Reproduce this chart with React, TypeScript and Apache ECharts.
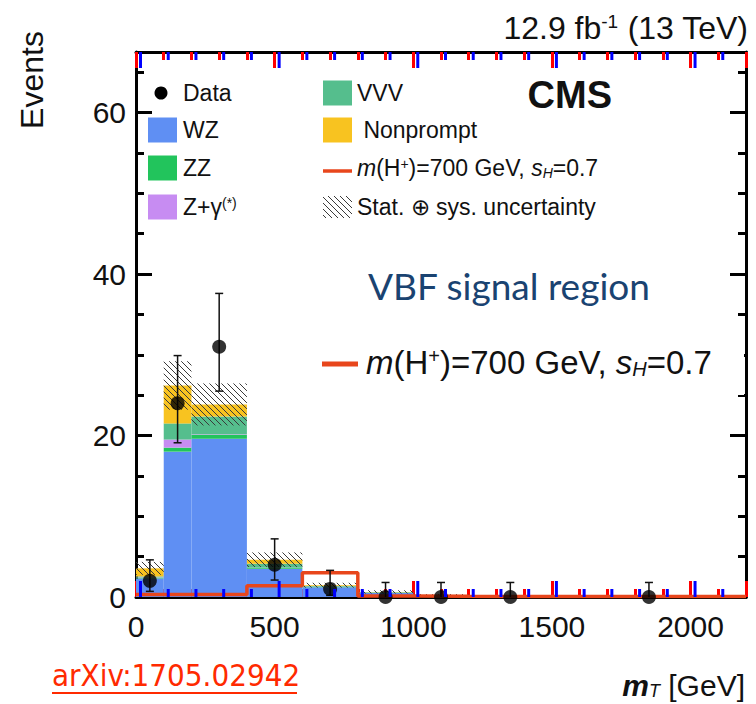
import React, { useEffect, useRef } from "react";
import * as echarts from "echarts";

// ---- data ----
const binEdges = [0, 100, 200, 400, 600, 800, 1000, 1200, 1500, 2200];
const wz = [2.3, 18.0, 19.6, 3.5, 1.2, 0.5, 0.2, 0.1, 0.05];
const zz = [0.1, 0.5, 0.5, 0.1, 0.05, 0.03, 0.02, 0.01, 0.01];
const zgamma = [0.05, 1.0, 0.05, 0.02, 0.01, 0, 0, 0, 0];
const vvv = [0.1, 2.0, 2.2, 0.5, 0.1, 0.05, 0.02, 0.01, 0.01];
const nonprompt = [1.0, 4.7, 1.5, 0.5, 0.1, 0.05, 0.02, 0.01, 0.01];
const bkgUnc = [0.8, 3.0, 2.6, 0.9, 0.3, 0.2, 0.1, 0.05, 0.03];
const signal = [0.3, 0.3, 0.3, 1.4, 3.0, 0.12, 0.08, 0.06, 0.05];
const dataX = [50, 150, 300, 500, 700, 900, 1100, 1350, 1850];
const dataY = [2, 24, 31, 4, 1, 0, 0, 0, 0];
const dataErrUp = [2.6, 5.9, 6.6, 3.2, 2.3, 1.8, 1.8, 1.8, 1.8];
const dataErrDown = [1.3, 4.9, 5.5, 1.9, 0.8, 0, 0, 0, 0];
const xTickLabels = [0, 500, 1000, 1500, 2000];
const xMinorTicks = [100, 200, 300, 400, 600, 700, 800, 900, 1100, 1200, 1300, 1400, 1600, 1700, 1800, 1900, 2100];
const yTickLabels = [0, 20, 40, 60];

const FONT = "'Liberation Sans', Arial, Helvetica, sans-serif";
const C_WZ = "#5f8ff3";
const C_ZZ = "#22c45c";
const C_ZG = "#c78cf2";
const C_VVV = "#55be8d";
const C_NP = "#f8c320";
const C_SIG = "#e8461c";
const stackColors = [C_WZ, C_ZZ, C_ZG, C_VVV, C_NP];
const X_MAX = 2200;
const Y_MAX = 67.5;

function hatchSegments(x0: number, y0: number, x1: number, y1: number, sp: number) {
  const segs: number[][] = [];
  const cStart = Math.ceil((y0 - x1) / sp) * sp;
  for (let c = cStart; c <= y1 - x0; c += sp) {
    const xa = Math.max(x0, y0 - c);
    const xb = Math.min(x1, y1 - c);
    if (xb > xa) segs.push([xa, xa + c, xb, xb + c]);
  }
  return segs;
}

function hatchLines(x0: number, y0: number, x1: number, y1: number, sp: number, z = 0) {
  return hatchSegments(x0, y0, x1, y1, sp).map((s) => ({
    type: "line",
    z,
    shape: { x1: s[0], y1: s[1], x2: s[2], y2: s[3] },
    style: { stroke: "#3a3a3a", lineWidth: 1 },
  }));
}

function txt(x: number, y: number, text: string, size: number, extra: any = {}, rich: any = undefined) {
  return {
    type: "text",
    x,
    y,
    z: 20,
    style: {
      text,
      fontSize: size,
      fontFamily: FONT,
      fill: "#111",
      align: "left",
      verticalAlign: "middle",
      ...(rich ? { rich } : {}),
      ...extra,
    },
  };
}

function richSet(size: number, color = "#111") {
  const sub = Math.round(size * 0.6);
  return {
    i: { fontSize: size, fontFamily: FONT, fontStyle: "italic", fill: color },
    bi: { fontSize: size, fontFamily: FONT, fontStyle: "italic", fontWeight: "bold", fill: color },
    sup: { fontSize: sub, fontFamily: FONT, fill: color, verticalAlign: "top" },
    sub: { fontSize: sub, fontFamily: FONT, fill: color, fontStyle: "italic", verticalAlign: "bottom" },
  };
}

export default function App() {
  const ref = useRef<HTMLDivElement>(null);

  useEffect(() => {
    document.body.style.margin = "0";
    const chart = echarts.init(ref.current!, null, { renderer: "svg" });

    const stackData = binEdges.slice(0, -1).map((x0, i) => [
      x0, binEdges[i + 1], wz[i], zz[i], zgamma[i], vvv[i], nonprompt[i],
    ]);
    const uncData = binEdges.slice(0, -1).map((x0, i) => {
      const tot = wz[i] + zz[i] + zgamma[i] + vvv[i] + nonprompt[i];
      return [x0, binEdges[i + 1], Math.max(0, tot - bkgUnc[i]), tot + bkgUnc[i]];
    });
    const sigData = binEdges.map((x, i) => [x, signal[Math.min(i, signal.length - 1)]]);
    const pts = dataX.map((x, i) => [x, dataY[i]]);
    const errData = dataX.map((x, i) => [x, dataY[i] - dataErrDown[i], dataY[i] + dataErrUp[i]]);

    const mkAxis = (
      pos: string, min: number, max: number, interval: number, split: number,
      labels: boolean, allowed: number[], margin: number, tickColor: string
    ) => ({
      type: "value",
      min,
      max,
      interval,
      position: pos,
      axisLine: { show: true, onZero: false, lineStyle: { color: "#000", width: 3 } },
      axisTick: { show: true, inside: true, length: 16, lineStyle: { color: tickColor, width: 3 } },
      minorTick: { show: true, splitNumber: split, length: 8, lineStyle: { color: tickColor, width: 3 } },
      axisLabel: labels
        ? {
            show: true,
            margin,
            fontSize: 30,
            fontFamily: FONT,
            color: "#111",
            formatter: (v: number) => (allowed.indexOf(v) >= 0 ? String(v) : ""),
          }
        : { show: false },
      splitLine: { show: false },
      minorSplitLine: { show: false },
    });

    const legendGraphics: any[] = [];
    const colA = 148;
    const colB = 323;
    const rows = [93, 130, 168, 207];
    const bw = 29;
    const bh = 25;
    const LS = 23;
    legendGraphics.push({ type: "circle", z: 20, shape: { cx: 161, cy: rows[0], r: 6.5 }, style: { fill: "#000" } });
    legendGraphics.push(txt(183, rows[0], "Data", LS));
    const colAItems: [string, string, any][] = [
      [C_WZ, "WZ", undefined],
      [C_ZZ, "ZZ", undefined],
      [C_ZG, "Z+γ{sup|(*)}", richSet(LS)],
    ];
    colAItems.forEach(([c, t, r], k) => {
      const y = rows[k + 1];
      legendGraphics.push({ type: "rect", z: 20, shape: { x: colA, y: y - bh / 2, width: bw, height: bh }, style: { fill: c } });
      legendGraphics.push(txt(183, y, t, LS, {}, r));
    });
    legendGraphics.push({ type: "rect", z: 20, shape: { x: colB, y: rows[0] - bh / 2, width: bw, height: bh }, style: { fill: C_VVV } });
    legendGraphics.push(txt(357, rows[0], "VVV", LS));
    legendGraphics.push({ type: "rect", z: 20, shape: { x: colB, y: rows[1] - bh / 2, width: bw, height: bh }, style: { fill: C_NP } });
    legendGraphics.push(txt(357, rows[1], " Nonprompt", LS));
    legendGraphics.push({ type: "line", z: 20, shape: { x1: colB, y1: rows[2] + 3, x2: colB + bw, y2: rows[2] + 3 }, style: { stroke: C_SIG, lineWidth: 3.5 } });
    legendGraphics.push(txt(357, rows[2], "{i|m}(H{sup|+})=700 GeV, {i|s}{sub|H}=0.7", LS, {}, richSet(LS)));
    legendGraphics.push(...hatchLines(colB, rows[3] - 11, colB + bw, rows[3] + 11, 6, 20));
    legendGraphics.push(txt(357, rows[3], "Stat. ⊕ sys. uncertainty", LS));

    const SS = 33;
    const box: any[] = [
      { type: "rect", z: 15, shape: { x: 303, y: 338, width: 441, height: 57 }, style: { fill: "#fff" } },
      { type: "line", z: 20, shape: { x1: 322, y1: 364, x2: 358, y2: 364 }, style: { stroke: C_SIG, lineWidth: 5 } },
      txt(366, 362, "{i|m}(H{sup|+})=700 GeV, {i|s}{sub|H}=0.7", SS, {}, richSet(SS)),
    ];

    const baseGraphics: any[] = [
      txt(748, 28, "12.9 fb{sup|-1} (13 TeV)", 32, { align: "right" }, richSet(32)),
      { ...txt(32, 80, "Events", 32, { align: "center" }), rotation: Math.PI / 2 },
      txt(745, 685, "{bi|m}{sub|T} [GeV]", 30, { align: "right" }, richSet(30)),
      txt(52, 675, "arXiv:1705.02942", 31, {
        fill: "#ff2a00",
        fontFamily: "'Liberation Sans Narrow', 'DejaVu Sans Condensed', 'Roboto', sans-serif",
      }),
      { type: "line", z: 20, shape: { x1: 52, y1: 693, x2: 297, y2: 693 }, style: { stroke: "#ff2a00", lineWidth: 2 } },
      txt(368, 285, "VBF signal region", 37, { fill: "#1a4371", fontFamily: "Lato, 'Open Sans', sans-serif" }),
      txt(612, 95, "CMS", 38, { align: "right", fontWeight: "bold" }),
      ...legendGraphics,
      ...box,
    ];

    const option: any = {
      animation: false,
      grid: { left: 136, top: 52, width: 610, height: 545, show: false },
      xAxis: [
        mkAxis("bottom", 0, X_MAX, 500, 5, true, xTickLabels, 14, "#ff0000"),
        mkAxis("top", 0, X_MAX, 500, 5, false, xTickLabels, 14, "#ff0000"),
      ],
      yAxis: [
        mkAxis("left", 0, Y_MAX, 20, 4, true, yTickLabels, 10, "#000"),
        mkAxis("right", 0, Y_MAX, 20, 4, false, yTickLabels, 10, "#000"),
      ],
      series: [
        {
          type: "custom",
          name: "stack",
          z: 2,
          encode: { x: [0, 1], y: [2] },
          data: stackData,
          renderItem: (params: any, api: any) => {
            const x0 = api.value(0);
            const x1 = api.value(1);
            let base = 0;
            const children: any[] = [];
            for (let k = 0; k < 5; k++) {
              const v = api.value(2 + k);
              if (!(v > 0)) continue;
              const p0 = api.coord([x0, base + v]);
              const p1 = api.coord([x1, base]);
              children.push({
                type: "rect",
                shape: { x: p0[0], y: p0[1], width: p1[0] - p0[0], height: p1[1] - p0[1] },
                style: { fill: stackColors[k] },
              });
              base += v;
            }
            return { type: "group", children };
          },
        },
        {
          type: "custom",
          name: "unc",
          z: 3,
          encode: { x: [0, 1], y: [2, 3] },
          data: uncData,
          renderItem: (params: any, api: any) => {
            const a = api.coord([api.value(0), api.value(3)]);
            const b = api.coord([api.value(1), api.value(2)]);
            return { type: "group", children: hatchLines(a[0], a[1], b[0], b[1], 6) };
          },
        },
        {
          type: "line",
          name: "signal",
          z: 4,
          step: "end",
          data: sigData,
          showSymbol: false,
          symbol: "none",
          lineStyle: { color: C_SIG, width: 3.5 },
        },
        {
          type: "custom",
          name: "errors",
          z: 5,
          encode: { x: 0, y: [1, 2] },
          data: errData,
          renderItem: (params: any, api: any) => {
            const x = api.value(0);
            const lo = api.value(1);
            const hi = api.value(2);
            const a = api.coord([x, hi]);
            const b = api.coord([x, lo]);
            const children: any[] = [
              { type: "line", shape: { x1: a[0], y1: a[1], x2: b[0], y2: b[1] }, style: { stroke: "#111", lineWidth: 1.5 } },
              { type: "line", shape: { x1: a[0] - 4, y1: a[1], x2: a[0] + 4, y2: a[1] }, style: { stroke: "#111", lineWidth: 1.5 } },
            ];
            if (lo > 0) {
              children.push({ type: "line", shape: { x1: b[0] - 4, y1: b[1], x2: b[0] + 4, y2: b[1] }, style: { stroke: "#111", lineWidth: 1.5 } });
            }
            return { type: "group", children };
          },
        },
        {
          type: "scatter",
          name: "Data",
          z: 6,
          data: pts,
          symbol: "circle",
          symbolSize: 14,
          itemStyle: { color: "#000" },
        },
      ],
      graphic: baseGraphics,
    };

    chart.setOption(option);

    const yBottom = Number(chart.convertToPixel({ yAxisIndex: 0 }, 0));
    const yTop = Number(chart.convertToPixel({ yAxisIndex: 0 }, Y_MAX));
    const tickEls: any[] = [];
    const addTick = (v: number, len: number) => {
      const px = Number(chart.convertToPixel({ xAxisIndex: 0 }, v));
      if (!isFinite(px) || !isFinite(yBottom) || !isFinite(yTop)) return;
      tickEls.push({ type: "rect", z: 25, silent: true, shape: { x: px + 3, y: yBottom - len, width: 3, height: len }, style: { fill: "#0000ff" } });
      tickEls.push({ type: "rect", z: 25, silent: true, shape: { x: px + 3, y: yTop, width: 3, height: len }, style: { fill: "#0000ff" } });
    };
    xTickLabels.forEach((v) => addTick(v, 16));
    xMinorTicks.forEach((v) => addTick(v, 8));
    chart.setOption({ graphic: [...baseGraphics, ...tickEls] });

    return () => chart.dispose();
  }, []);

  return (
    <div
      ref={ref}
      style={{ position: "fixed", left: 0, top: 0, width: 756, height: 704, background: "#fff" }}
    />
  );
}
